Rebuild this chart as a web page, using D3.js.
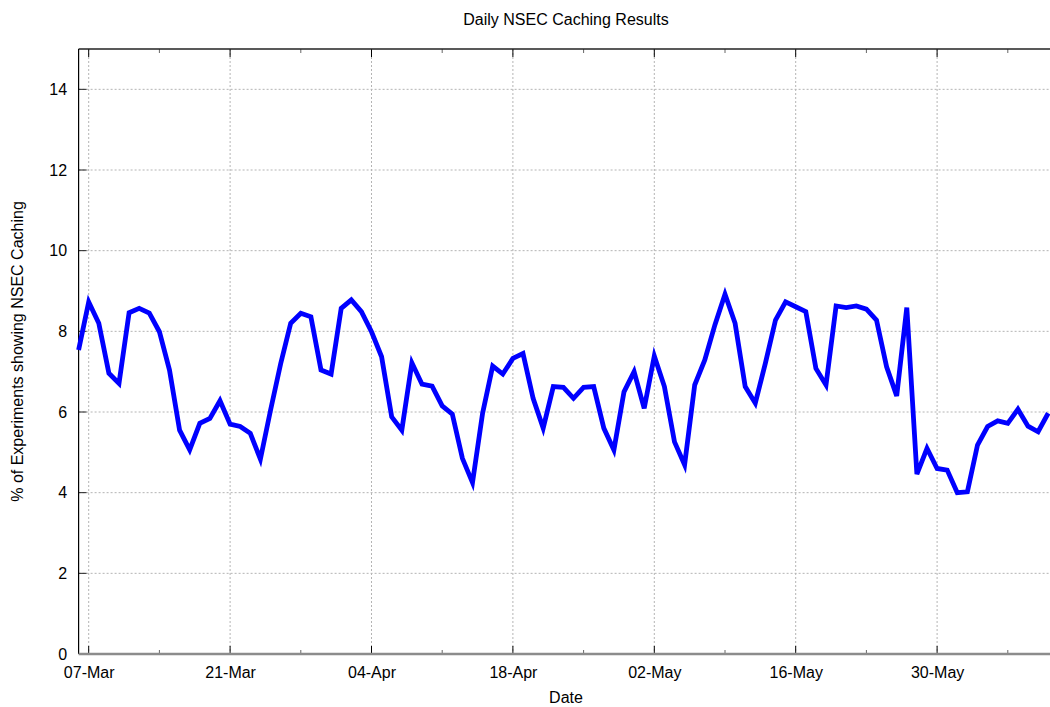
<!DOCTYPE html>
<html>
<head>
<meta charset="utf-8">
<script src="https://cdn.jsdelivr.net/npm/d3@7"></script>
<style>
  body { margin: 0; background: #fff; }
  text { font-family: "Liberation Sans", Arial, sans-serif; }
</style>
</head>
<body>
<svg id="drawing_region"></svg>
<script>
// one value per day, starting 06-Mar
const startDate = "2014-03-06";
const caching = [
    7.54, 8.73, 8.20, 6.96, 6.71, 8.46, 8.57, 8.45, 7.99, 7.04,
    5.55, 5.06, 5.72, 5.84, 6.28, 5.70, 5.64, 5.47, 4.83, 6.04,
    7.19, 8.20, 8.45, 8.36, 7.04, 6.94, 8.57, 8.78, 8.49, 7.99,
    7.37, 5.88, 5.55, 7.22, 6.69, 6.64, 6.15, 5.95, 4.85, 4.25,
    5.97, 7.14, 6.94, 7.33, 7.45, 6.34, 5.60, 6.63, 6.61, 6.34,
    6.61, 6.63, 5.60, 5.06, 6.50, 7.00, 6.09, 7.39, 6.63, 5.26,
    4.69, 6.67, 7.29, 8.16, 8.92, 8.20, 6.63, 6.22, 7.21, 8.28,
    8.73, 8.61, 8.49, 7.08, 6.67, 8.63, 8.59, 8.63, 8.55, 8.28,
    7.12, 6.40, 8.59, 4.46, 5.10, 4.60, 4.56, 4.00, 4.02, 5.18,
    5.64, 5.78, 5.72, 6.07, 5.65, 5.51, 5.97
];
const majorTicks = ["2014-03-07", "2014-03-21", "2014-04-04", "2014-04-18", "2014-05-02", "2014-05-16", "2014-05-30"];
const minorTicks = ["2014-03-14", "2014-03-28", "2014-04-11", "2014-04-25", "2014-05-09", "2014-05-23", "2014-06-06"];
const yTicks = [0, 2, 4, 6, 8, 10, 12, 14];

const parse = d3.timeParse("%Y-%m-%d");

class DailyChart {
    constructor( config, data ) {
        this.config = config;
        this.data = data;
        this.init();
    }

    init() {
        let self = this;
        let m = self.config.margin;

        self.svg = d3.select( self.config.parent )
            .attr('width', self.config.width)
            .attr('height', self.config.height);

        self.inner_width = self.config.plot_width;
        self.inner_height = self.config.height - m.top - m.bottom;

        self.chart = self.svg.append('g')
            .attr('transform', `translate(${m.left}, ${m.top})`);

        let start = parse(startDate);
        self.xscale = d3.scaleTime()
            .domain([start, d3.timeDay.offset(start, 97)])
            .range([0, self.inner_width]);

        self.yscale = d3.scaleLinear()
            .domain([0, 15])
            .range([self.inner_height, 0]);

        self.line = d3.line()
            .x( d => self.xscale(d.date) )
            .y( d => self.yscale(d.value) );
    }

    render() {
        let self = this;
        let h = self.inner_height;
        let majors = majorTicks.map(parse);
        let minors = minorTicks.map(parse);

        // grid
        self.chart.append('g').selectAll('line')
            .data(yTicks.filter(d => d > 0))
            .join('line')
            .attr('x1', 0).attr('x2', self.inner_width)
            .attr('y1', d => self.yscale(d)).attr('y2', d => self.yscale(d))
            .attr('stroke', '#b4b4b4')
            .attr('stroke-dasharray', '2,2');

        self.chart.append('g').selectAll('line')
            .data(majors)
            .join('line')
            .attr('x1', d => self.xscale(d)).attr('x2', d => self.xscale(d))
            .attr('y1', 0).attr('y2', h)
            .attr('stroke', '#b4b4b4')
            .attr('stroke-dasharray', '2,2');

        // tick marks, bottom and top, pointing inward
        self.chart.append('g').selectAll('line')
            .data(majors)
            .join('line')
            .attr('x1', d => self.xscale(d)).attr('x2', d => self.xscale(d))
            .attr('y1', h).attr('y2', h - 8)
            .attr('stroke', '#000');
        self.chart.append('g').selectAll('line')
            .data(majors)
            .join('line')
            .attr('x1', d => self.xscale(d)).attr('x2', d => self.xscale(d))
            .attr('y1', 0).attr('y2', 8)
            .attr('stroke', '#000');
        self.chart.append('g').selectAll('line')
            .data(minors)
            .join('line')
            .attr('x1', d => self.xscale(d)).attr('x2', d => self.xscale(d))
            .attr('y1', h).attr('y2', h - 4)
            .attr('stroke', '#666');
        self.chart.append('g').selectAll('line')
            .data(minors)
            .join('line')
            .attr('x1', d => self.xscale(d)).attr('x2', d => self.xscale(d))
            .attr('y1', 0).attr('y2', 4)
            .attr('stroke', '#666');
        self.chart.append('g').selectAll('line')
            .data(yTicks.filter(d => d > 0))
            .join('line')
            .attr('x1', 0).attr('x2', 8)
            .attr('y1', d => self.yscale(d)).attr('y2', d => self.yscale(d))
            .attr('stroke', '#222');

        // frame
        self.chart.append('line')
            .attr('x1', 0).attr('x2', self.inner_width)
            .attr('y1', 0).attr('y2', 0)
            .attr('stroke', '#222').attr('stroke-width', 1.5);
        self.chart.append('line')
            .attr('x1', 0).attr('x2', 0)
            .attr('y1', 0).attr('y2', h)
            .attr('stroke', '#000').attr('stroke-width', 1.2);
        self.chart.append('line')
            .attr('x1', 0).attr('x2', self.inner_width)
            .attr('y1', h).attr('y2', h)
            .attr('stroke', '#8c8c8c').attr('stroke-width', 2.5);

        // series
        self.chart.append('path')
            .attr('d', self.line(self.data))
            .attr('stroke', '#0000ff')
            .attr('stroke-width', 4.8)
            .attr('stroke-linejoin', 'miter')
            .attr('fill', 'none');

        // axes labels
        self.xaxis = d3.axisBottom(self.xscale)
            .tickValues(majors)
            .tickFormat(d3.timeFormat("%d-%b"))
            .tickSize(0)
            .tickPadding(12.5);
        self.yaxis = d3.axisLeft(self.yscale)
            .tickValues(yTicks)
            .tickSize(0)
            .tickPadding(11.5);

        let xg = self.chart.append('g')
            .attr('transform', `translate(0, ${h})`)
            .call(self.xaxis);
        let yg = self.chart.append('g').call(self.yaxis);
        [xg, yg].forEach(g => {
            g.select('.domain').remove();
            g.selectAll('text')
                .attr('font-size', 16)
                .attr('font-family', '"Liberation Sans", Arial, sans-serif')
                .attr('fill', '#000');
        });

        self.svg.append('text')
            .attr('x', 566)
            .attr('y', 25)
            .attr('text-anchor', 'middle')
            .attr('font-size', 16)
            .text('Daily NSEC Caching Results');

        self.svg.append('text')
            .attr('x', 566)
            .attr('y', 703)
            .attr('text-anchor', 'middle')
            .attr('font-size', 16)
            .text('Date');

        self.svg.append('text')
            .attr('transform', `rotate(-90) translate(${-(self.config.margin.top + h / 2)}, 23)`)
            .attr('text-anchor', 'middle')
            .attr('font-size', 16)
            .text('% of Experiments showing NSEC Caching');
    }
}

const start = parse(startDate);
const data = caching.map( (v, i) => ({ date: d3.timeDay.offset(start, i), value: v }) );

const chart = new DailyChart({
    parent: '#drawing_region',
    width: 1050,
    height: 707,
    plot_width: 979.7,
    margin: {top: 49, right: 0, bottom: 53, left: 78.6}
}, data);
chart.render();
</script>
</body>
</html>
